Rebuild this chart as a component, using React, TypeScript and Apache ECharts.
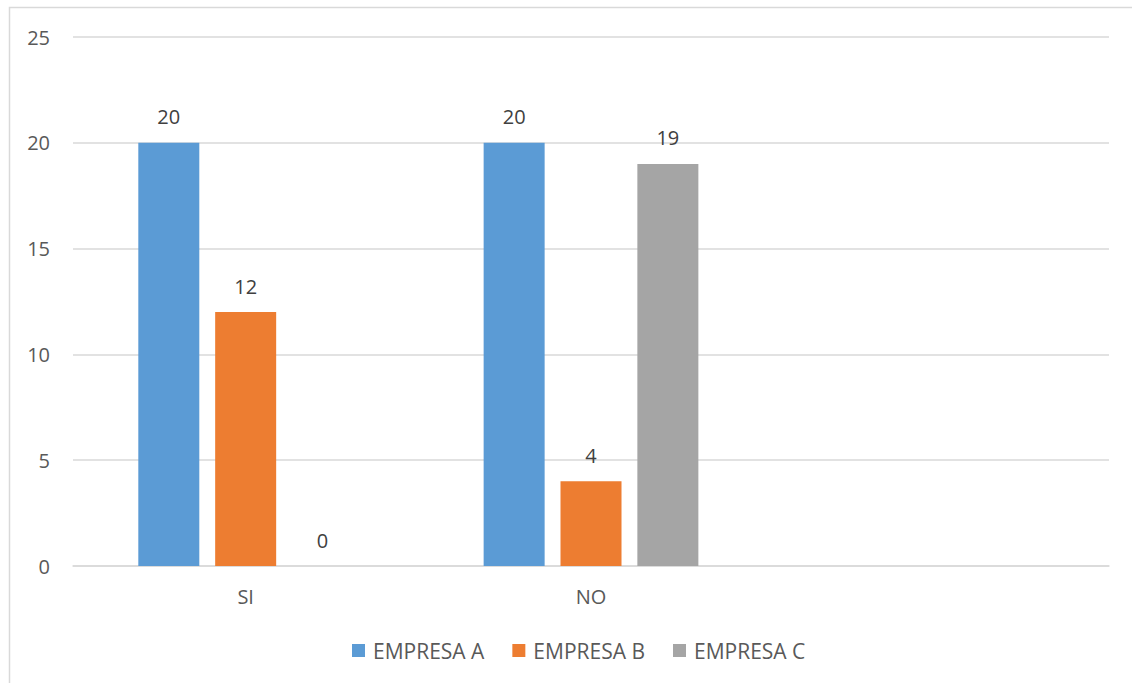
import React, { useEffect, useRef } from "react";
import * as echarts from "echarts";

const categories = ["SI", "NO", ""];
const seriesNames = ["EMPRESA A", "EMPRESA B", "EMPRESA C"];
const empresaA = [20, 20, null];
const empresaB = [12, 4, null];
const empresaC = [0, 19, null];
const colors = ["#5B9BD5", "#ED7D31", "#A5A5A5"];
const yTicks = { min: 0, max: 25, interval: 5 };

export default function App() {
  const ref = useRef<HTMLDivElement>(null);
  useEffect(() => {
    if (!ref.current) return;
    const chart = echarts.init(ref.current, null, { renderer: "svg" });
    const font = "'Open Sans', 'Noto Sans', sans-serif";
    const values = [empresaA, empresaB, empresaC];
    chart.setOption({
      animation: false,
      backgroundColor: "#ffffff",
      textStyle: { fontFamily: font },
      graphic: [
        {
          type: "rect",
          shape: { x: 9.5, y: 7.5, width: 1200, height: 700 },
          style: { fill: "none", stroke: "#d9d9d9", lineWidth: 1.5 },
          silent: true,
        },
      ],
      grid: { left: 73, right: 23, top: 37, bottom: 117 },
      legend: {
        bottom: 17,
        left: 347,
        itemWidth: 13,
        itemHeight: 13,
        itemGap: 28,
        icon: "rect",
        textStyle: { color: "#595959", fontSize: 21, fontFamily: font, padding: [0, 0, 0, 3] },
        data: seriesNames,
      },
      xAxis: {
        type: "category",
        data: categories,
        axisLine: { show: true, lineStyle: { color: "#d9d9d9", width: 1.5 } },
        axisTick: { show: false },
        axisLabel: { color: "#595959", fontSize: 20, margin: 20, fontFamily: font },
      },
      yAxis: {
        type: "value",
        min: yTicks.min,
        max: yTicks.max,
        interval: yTicks.interval,
        axisLine: { show: false },
        axisTick: { show: false },
        splitLine: { lineStyle: { color: "#d9d9d9", width: 1.5 } },
        axisLabel: { color: "#595959", fontSize: 20, margin: 23, fontFamily: font },
      },
      series: seriesNames.map((name, i) => ({
        name,
        type: "bar",
        data: values[i],
        barWidth: 61,
        barGap: "26%",
        itemStyle: { color: colors[i] },
        label: {
          show: true,
          position: "top",
          distance: 16,
          color: "#404040",
          fontSize: 20,
          fontFamily: font,
        },
      })),
    });
    return () => chart.dispose();
  }, []);
  return (
    <div
      ref={ref}
      style={{ position: "fixed", left: 0, top: 0, width: 1132, height: 683 }}
    />
  );
}
